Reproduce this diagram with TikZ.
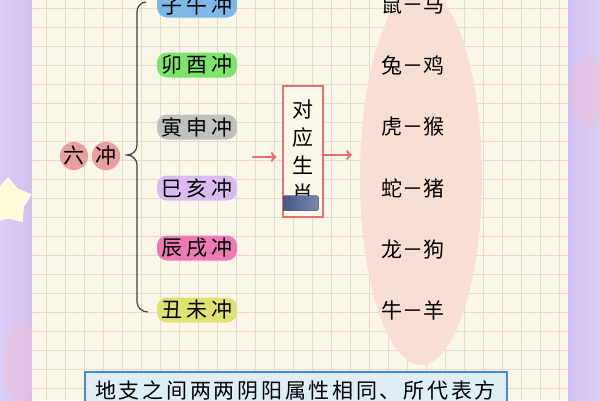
\documentclass[tikz,border=0pt]{standalone}
\usepackage{fontspec}
\usepackage{xcolor}
\usepackage{tikz}
\usetikzlibrary{arrows,shapes,shapes.geometric}
\usetikzlibrary{positioning}
\newfontfamily\cjk{Noto Sans CJK SC}
\definecolor{paper}{RGB}{251,247,232}
\definecolor{gridc}{RGB}{228,220,200}
\definecolor{lav}{RGB}{208,192,240}
\definecolor{chong}{RGB}{232,160,158}
\definecolor{arr}{RGB}{232,112,106}
\definecolor{peach}{RGB}{247,223,212}
\definecolor{noteb}{RGB}{70,140,200}
\definecolor{notef}{RGB}{222,238,246}
\tikzstyle{zhi}=[rounded corners=10pt,minimum width=80pt,minimum height=25pt,inner sep=0pt,
  font=\cjk\fontsize{21}{21}\selectfont\addfontfeature{LetterSpace=18}]
\tikzstyle{pair}=[inner sep=0pt,font=\cjk\fontsize{21}{21}\selectfont]
\tikzstyle{ball}=[circle,fill=chong,minimum size=26pt,inner sep=0pt,
  font=\cjk\fontsize{21}{21}\selectfont]
\tikzstyle{toarr}=[->,>=to,draw=arr,line width=2.4pt,line cap=round]

\begin{document}
\begin{tikzpicture}[x=1pt,y=-1pt]
	\useasboundingbox (0,0) rectangle (600,400);
	\clip (0,0) rectangle (600,400);

% % % page
	\fill[left color=lav!80!white,right color=lav] (0,0) rectangle (32,400);
	\fill[left color=lav,right color=lav!80!white] (568,0) rectangle (600,400);
	\node[star,star points=5,fill=yellow!15!white,minimum size=50pt] at (8,202) {};
	\fill[pink!50!lav,opacity=0.6] (22,362) ellipse (18 and 40);
	\fill[pink!50!lav,opacity=0.6] (588,92) ellipse (18 and 36);
	\fill[paper] (32,0) rectangle (568,400);
	\foreach \gx in {46,65,...,568} \draw[gridc,line width=0.6pt] (\gx,0) -- (\gx,400);
	\foreach \gy in {8,27,...,400} \draw[gridc,line width=0.6pt] (32,\gy) -- (568,\gy);

% % % six clashes
	\node[ball] (liu) at (74,156) {六};
	\node[ball] (chg) at (106,156) {冲};

	\draw[black!75,line width=1.2pt] (146,2) to[out=180,in=90] (137,12) -- (137,145)
		to[out=-90,in=0] (127,155) to[out=0,in=90] (137,165) -- (137,302)
		to[out=-90,in=180] (148,312);

	\node[zhi,fill={rgb,255:red,125;green,183;blue,232}] (zw) at (197,5) {子午冲};
	\node[zhi,fill={rgb,255:red,124;green,227;blue,107}] (my) at (197,65) {卯酉冲};
	\node[zhi,fill={rgb,255:red,192;green,192;blue,190}] (ys) at (197,127) {寅申冲};
	\node[zhi,fill={rgb,255:red,216;green,188;blue,240}] (sh) at (197,188) {巳亥冲};
	\node[zhi,fill={rgb,255:red,236;green,122;blue,180}] (cx) at (197,248) {辰戌冲};
	\node[zhi,fill={rgb,255:red,222;green,226;blue,112}] (cw) at (197,310) {丑未冲};

% % % zodiac
	\node[draw=arr,line width=1.2pt,fill=paper,minimum width=40pt,minimum height=131pt,
		inner sep=0pt,align=center,font=\cjk\fontsize{21}{28}\selectfont] (sx) at (303,151.5)
		{对\\应\\生\\肖};
	\fill[left color={rgb,255:red,70;green,88;blue,140},right color={rgb,255:red,120;green,135;blue,175},
		rounded corners=2pt] ([xshift=0.6pt,yshift=22pt]sx.south west) rectangle ([xshift=-5pt,yshift=7pt]sx.south east);

	\coordinate (a1) at (253,157);
	\path[toarr] (a1) -- ([xshift=-6pt]sx.west |- a1);

	\node[ellipse,fill=peach,minimum width=122pt,minimum height=376pt,inner sep=0pt] (sxy) at (421,177) {};
	\path[toarr,shorten >=8pt] (sx.east |- 0,155) -- (sxy.west |- 0,155);

	\node[pair] (p1) at (413,5) {鼠－马};
	\node[pair] (p2) at (413,65) {兔－鸡};
	\node[pair] (p3) at (413,127) {虎－猴};
	\node[pair] (p4) at (413,188) {蛇－猪};
	\node[pair] (p5) at (413,250) {龙－狗};
	\node[pair] (p6) at (413,310) {牛－羊};

% % % note
	\draw[noteb,line width=1.5pt,fill=notef] (85,372) rectangle (507,420);
	\node[anchor=west,inner sep=0pt,font=\cjk\fontsize{21}{21}\selectfont\addfontfeature{LetterSpace=13}] (nt) at (95,391)
		{地支之间两两阴阳属性相同、所代表方};

\end{tikzpicture}
\end{document}
